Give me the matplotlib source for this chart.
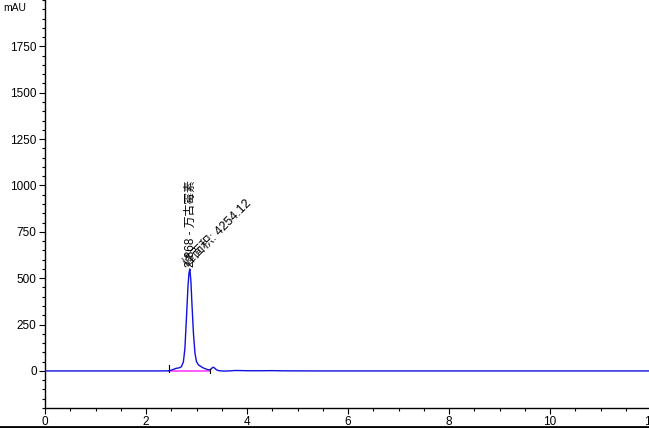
import numpy as np
import matplotlib
matplotlib.use("Agg")
import matplotlib.pyplot as plt
from matplotlib.ticker import MultipleLocator

plt.rcParams['font.family'] = ['Liberation Sans', 'Noto Sans CJK SC', 'DejaVu Sans']

# chromatogram trace (min, mAU)
time = [0.0, 2.40, 2.45, 2.50, 2.55, 2.60, 2.65, 2.70, 2.74, 2.77, 2.80,
        2.83, 2.85, 2.868, 2.89, 2.91, 2.94, 2.97, 3.00, 3.04, 3.08, 3.12,
        3.17, 3.22, 3.27, 3.30, 3.33, 3.36, 3.40, 3.45, 3.55, 3.65, 3.75,
        3.85, 4.00, 4.30, 4.50, 4.70, 5.20, 12.0]
signal = [0, 0, 1, 4, 9, 14, 16, 22, 48, 120, 280,
          450, 525, 550, 480, 360, 200, 95, 50, 32, 25, 18,
          12, 7, 6, 14, 20, 15, 5, 1, -1, 0, 2,
          2, 1, 1, 1.5, 0.5, 0, 0]

peak_rt = 2.868
peak_name = "万古霉素"
peak_area = 4254.12
base_start, base_end = 2.46, 3.27

fig = plt.figure(figsize=(6.49, 4.28), dpi=100)
ax = fig.add_axes([45 / 649, 20 / 428, 606 / 649, 408 / 428])

ax.plot(time, signal, color="#1010e0", lw=1.0, zorder=3)
ax.plot([base_start, base_end], [0, 0], color="#ff40ff", lw=1.2, zorder=2)
ax.plot([base_start, base_start], [-5, 30], color="black", lw=0.8, zorder=4)
ax.plot([base_end, base_end], [-12, 12], color="black", lw=0.8, zorder=4)

ax.text(peak_rt + 0.03, 560, f"{peak_rt:.3f} - {peak_name}", rotation=90,
        ha="center", va="bottom", fontsize=8.5,
        family=['Liberation Sans', 'Noto Sans CJK SC'])
ax.text(peak_rt + 0.02, 545, f"峰面积: {peak_area:.2f}", rotation=45,
        ha="left", va="bottom", fontsize=9, rotation_mode="anchor",
        family=['Liberation Sans', 'Noto Sans CJK SC'])

ax.set_xlim(0, 12)
ax.set_ylim(-200, 2000)
ax.set_yticks([0, 250, 500, 750, 1000, 1250, 1500, 1750])
ax.set_xticks([0, 2, 4, 6, 8, 10, 12])
ax.xaxis.set_minor_locator(MultipleLocator(0.5))
ax.yaxis.set_minor_locator(MultipleLocator(50))
ax.tick_params(which="major", length=4, width=0.8, labelsize=8.5, pad=2)
ax.tick_params(which="minor", length=2.5, width=0.8)
ax.spines["top"].set_visible(False)
ax.spines["right"].set_visible(False)
for s in ("left", "bottom"):
    ax.spines[s].set_linewidth(1.0)

fig.text(3 / 649, 1 - 3 / 428, "mAU", fontsize=7.5, ha="left", va="top")
fig.add_artist(plt.Line2D([0, 1], [1.5 / 428, 1.5 / 428], color="black", lw=2,
                          transform=fig.transFigure))

fig.savefig("out.png", dpi=100)
